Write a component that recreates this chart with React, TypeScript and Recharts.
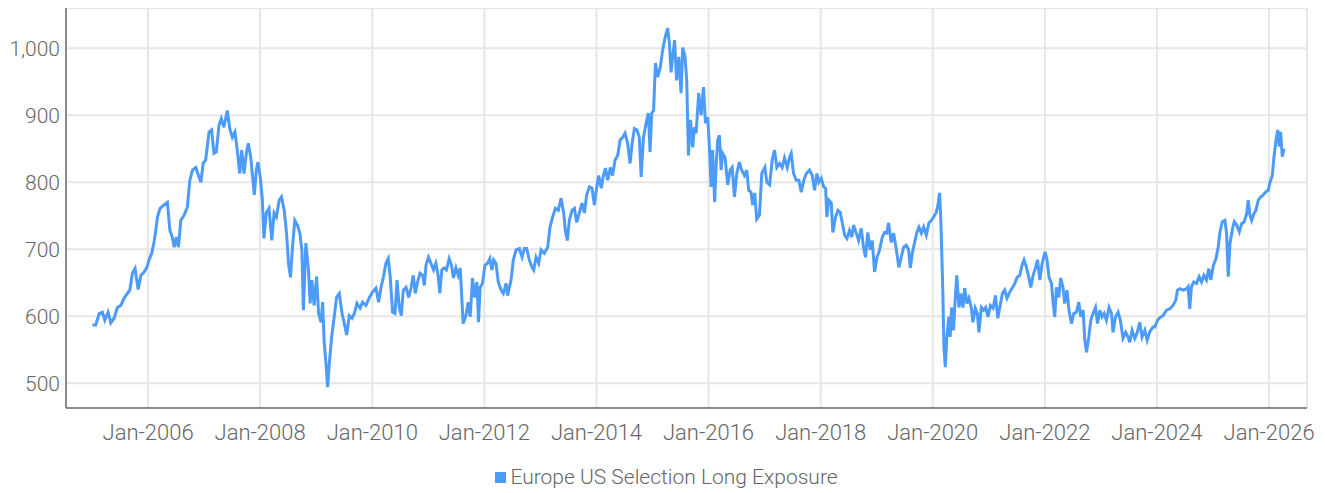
import React from "react";
import { LineChart, Line, XAxis, YAxis, CartesianGrid, Legend } from "recharts";

const seriesName = "Europe US Selection Long Exposure";

const dates: string[] = [
  "2005-01-03", "2005-01-25", "2005-02-16", "2005-03-09", "2005-03-25", "2005-04-15", "2005-05-03", "2005-05-24", "2005-06-15", "2005-07-07", "2005-07-29", "2005-08-19", "2005-09-04", "2005-09-21", "2005-10-08", "2005-10-28", "2005-11-15", "2005-12-06", "2005-12-24",
  "2006-01-07", "2006-01-25", "2006-02-09", "2006-02-20", "2006-03-03", "2006-03-20", "2006-04-15", "2006-05-07", "2006-05-23", "2006-06-08", "2006-06-20", "2006-07-05", "2006-07-18", "2006-08-02", "2006-08-24", "2006-09-14", "2006-09-30", "2006-10-17", "2006-11-08", "2006-11-25", "2006-12-11", "2006-12-26",
  "2007-01-11", "2007-02-02", "2007-02-19", "2007-03-06", "2007-03-21", "2007-04-08", "2007-04-23", "2007-05-10", "2007-06-01", "2007-06-17", "2007-07-04", "2007-07-21", "2007-08-05", "2007-08-21", "2007-09-03", "2007-09-18", "2007-10-03", "2007-10-16", "2007-11-01", "2007-11-11", "2007-11-24", "2007-12-07", "2007-12-18",
  "2008-01-02", "2008-01-15", "2008-01-26", "2008-02-10", "2008-02-28", "2008-03-17", "2008-04-01", "2008-04-16", "2008-05-04", "2008-05-19", "2008-06-06", "2008-06-21", "2008-07-04", "2008-07-17", "2008-07-30", "2008-08-14", "2008-08-31", "2008-09-16", "2008-09-29", "2008-10-09", "2008-10-25", "2008-11-11", "2008-11-22", "2008-12-03", "2008-12-18",
  "2009-01-03", "2009-01-16", "2009-02-01", "2009-02-11", "2009-02-22", "2009-03-05", "2009-03-16", "2009-03-27", "2009-04-11", "2009-04-28", "2009-05-13", "2009-05-31", "2009-06-18", "2009-07-03", "2009-07-18", "2009-08-04", "2009-08-22", "2009-09-06", "2009-09-23", "2009-10-13", "2009-10-30", "2009-11-21", "2009-12-13",
  "2010-01-03", "2010-01-25", "2010-02-11", "2010-02-27", "2010-03-14", "2010-03-31", "2010-04-15", "2010-04-28", "2010-05-13", "2010-05-29", "2010-06-11", "2010-06-26", "2010-07-09", "2010-07-22", "2010-08-09", "2010-08-26", "2010-09-10", "2010-09-25", "2010-10-08", "2010-10-23", "2010-11-08", "2010-11-25", "2010-12-06", "2010-12-17",
  "2011-01-02", "2011-01-18", "2011-02-04", "2011-02-19", "2011-03-06", "2011-03-17", "2011-03-30", "2011-04-14", "2011-04-29", "2011-05-17", "2011-06-01", "2011-06-14", "2011-06-30", "2011-07-15", "2011-07-28", "2011-08-08", "2011-08-16", "2011-09-03", "2011-09-18", "2011-10-01", "2011-10-16", "2011-10-29", "2011-11-14", "2011-11-24", "2011-12-05", "2011-12-20",
  "2012-01-05", "2012-01-22", "2012-02-06", "2012-02-19", "2012-03-02", "2012-03-17", "2012-04-01", "2012-04-19", "2012-05-04", "2012-05-22", "2012-06-01", "2012-06-23", "2012-07-08", "2012-07-26", "2012-08-16", "2012-09-03", "2012-09-18", "2012-10-03", "2012-10-20", "2012-11-07", "2012-11-18", "2012-12-03", "2012-12-20",
  "2013-01-05", "2013-01-26", "2013-02-17", "2013-03-04", "2013-03-21", "2013-04-08", "2013-04-27", "2013-05-15", "2013-06-01", "2013-06-12", "2013-06-25", "2013-07-08", "2013-07-26", "2013-08-10", "2013-08-25", "2013-09-11", "2013-09-29", "2013-10-14", "2013-10-29", "2013-11-16", "2013-12-03", "2013-12-18",
  "2014-01-03", "2014-01-15", "2014-02-01", "2014-02-15", "2014-02-28", "2014-03-15", "2014-04-01", "2014-04-16", "2014-05-02", "2014-05-19", "2014-06-04", "2014-06-21", "2014-07-06", "2014-07-23", "2014-08-08", "2014-08-21", "2014-09-05", "2014-09-22", "2014-10-07", "2014-10-19", "2014-11-03", "2014-11-20", "2014-12-05", "2014-12-16", "2014-12-27",
  "2015-01-08", "2015-01-20", "2015-02-04", "2015-02-21", "2015-03-08", "2015-03-24", "2015-04-10", "2015-04-21", "2015-05-02", "2015-05-12", "2015-05-25", "2015-06-07", "2015-06-21", "2015-07-06", "2015-07-17", "2015-08-01", "2015-08-12", "2015-08-23", "2015-09-05", "2015-09-20", "2015-10-01", "2015-10-12", "2015-10-29", "2015-11-14", "2015-11-29", "2015-12-12", "2015-12-27",
  "2016-01-07", "2016-01-18", "2016-01-28", "2016-02-10", "2016-02-19", "2016-03-01", "2016-03-12", "2016-03-23", "2016-04-02", "2016-04-18", "2016-05-05", "2016-05-21", "2016-06-03", "2016-06-18", "2016-07-03", "2016-07-20", "2016-08-04", "2016-08-22", "2016-09-06", "2016-09-19", "2016-10-04", "2016-10-15", "2016-10-28", "2016-11-10", "2016-11-28", "2016-12-13",
  "2017-01-02", "2017-01-15", "2017-02-02", "2017-02-19", "2017-03-06", "2017-03-21", "2017-04-08", "2017-04-25", "2017-05-10", "2017-05-28", "2017-06-12", "2017-06-23", "2017-07-08", "2017-07-26", "2017-08-12", "2017-08-27", "2017-09-13", "2017-09-29", "2017-10-20", "2017-11-07", "2017-11-22", "2017-12-07", "2017-12-20",
  "2018-01-05", "2018-01-20", "2018-02-02", "2018-02-10", "2018-02-23", "2018-03-11", "2018-03-21", "2018-04-08", "2018-04-23", "2018-05-08", "2018-05-22", "2018-06-06", "2018-06-21", "2018-07-08", "2018-07-23", "2018-08-03", "2018-08-21", "2018-09-05", "2018-09-22", "2018-10-07", "2018-10-20", "2018-11-04", "2018-11-20", "2018-12-03", "2018-12-18",
  "2019-01-03", "2019-01-20", "2019-02-06", "2019-02-21", "2019-03-08", "2019-03-19", "2019-04-06", "2019-04-21", "2019-05-08", "2019-05-25", "2019-06-10", "2019-06-25", "2019-07-13", "2019-07-28", "2019-08-08", "2019-08-21", "2019-09-05", "2019-09-20", "2019-10-03", "2019-10-19", "2019-11-03", "2019-11-20", "2019-12-07", "2019-12-23",
  "2020-01-07", "2020-01-24", "2020-02-04", "2020-02-15", "2020-02-23", "2020-03-01", "2020-03-07", "2020-03-14", "2020-03-23", "2020-04-02", "2020-04-15", "2020-04-24", "2020-05-03", "2020-05-16", "2020-05-27", "2020-06-06", "2020-06-20", "2020-07-01", "2020-07-16", "2020-07-27", "2020-08-11", "2020-08-24", "2020-09-08", "2020-09-19", "2020-10-04", "2020-10-18", "2020-10-28", "2020-11-13", "2020-11-28", "2020-12-11", "2020-12-26",
  "2021-01-11", "2021-01-28", "2021-02-13", "2021-02-28", "2021-03-13", "2021-03-30", "2021-04-14", "2021-04-29", "2021-05-17", "2021-06-04", "2021-06-19", "2021-07-04", "2021-07-21", "2021-08-05", "2021-08-18", "2021-09-03", "2021-09-18", "2021-10-01", "2021-10-16", "2021-11-01", "2021-11-14", "2021-11-29", "2021-12-14",
  "2022-01-02", "2022-01-15", "2022-01-28", "2022-02-13", "2022-02-23", "2022-03-06", "2022-03-17", "2022-04-01", "2022-04-14", "2022-04-29", "2022-05-10", "2022-05-25", "2022-06-07", "2022-06-23", "2022-07-08", "2022-07-26", "2022-08-10", "2022-08-23", "2022-09-07", "2022-09-18", "2022-09-29", "2022-10-14", "2022-10-27", "2022-11-11", "2022-11-27", "2022-12-10", "2022-12-25",
  "2023-01-08", "2023-01-22", "2023-02-06", "2023-02-23", "2023-03-11", "2023-03-21", "2023-04-06", "2023-04-23", "2023-05-08", "2023-05-25", "2023-06-12", "2023-06-27", "2023-07-08", "2023-07-23", "2023-08-10", "2023-08-25", "2023-09-11", "2023-09-26", "2023-10-14", "2023-10-29", "2023-11-16", "2023-12-07", "2023-12-18",
  "2024-01-05", "2024-01-20", "2024-02-10", "2024-03-03", "2024-03-25", "2024-04-15", "2024-05-03", "2024-05-14", "2024-05-29", "2024-06-20", "2024-07-12", "2024-07-22", "2024-08-02", "2024-08-13", "2024-08-28", "2024-09-15", "2024-10-02", "2024-10-18", "2024-11-02", "2024-11-19", "2024-12-04", "2024-12-17",
  "2025-01-03", "2025-01-20", "2025-02-04", "2025-02-15", "2025-03-02", "2025-03-19", "2025-03-30", "2025-04-10", "2025-04-21", "2025-05-08", "2025-05-19", "2025-06-04", "2025-06-21", "2025-07-06", "2025-07-23", "2025-08-08", "2025-08-18", "2025-08-29", "2025-09-09", "2025-09-24", "2025-10-07", "2025-10-22", "2025-11-07", "2025-11-24", "2025-12-12", "2025-12-27",
  "2026-01-07", "2026-01-22", "2026-02-02", "2026-02-15", "2026-02-26", "2026-03-08", "2026-03-17", "2026-03-28", "2026-04-08",
];

const exposure: number[] = [
  587, 587, 604, 606, 594, 606, 590, 597, 613, 616, 627, 634, 639, 664, 671, 640, 661, 666, 673,
  684, 694, 711, 728, 748, 761, 766, 770, 728, 718, 703, 718, 703, 743, 751, 763, 803, 818, 822, 810, 800, 828,
  833, 875, 878, 843, 845, 885, 895, 882, 907, 880, 867, 875, 848, 813, 848, 813, 843, 858, 837, 813, 781, 818, 830,
  807, 776, 716, 754, 761, 713, 754, 748, 773, 778, 758, 724, 679, 658, 703, 743, 736, 724, 699, 609, 709, 669, 619, 654, 616,
  659, 604, 591, 621, 560, 530, 494, 530, 569, 599, 628, 634, 604, 589, 572, 601, 597, 604, 619, 612, 621, 616, 628,
  636, 642, 621, 643, 658, 679, 686, 658, 606, 604, 654, 613, 601, 639, 643, 628, 642, 661, 634, 651, 664, 661, 646, 676,
  688, 679, 669, 679, 661, 634, 669, 672, 669, 686, 676, 657, 672, 661, 672, 624, 589, 601, 621, 599, 657, 628, 651, 591, 643, 649,
  676, 679, 686, 669, 684, 679, 651, 639, 634, 649, 631, 654, 684, 699, 701, 688, 701, 701, 684, 673, 669, 688, 679,
  699, 694, 703, 733, 748, 761, 758, 776, 754, 728, 713, 743, 758, 761, 740, 754, 769, 754, 781, 793, 791, 766,
  793, 810, 791, 810, 821, 803, 822, 810, 833, 840, 863, 867, 873, 858, 828, 858, 880, 878, 867, 808, 867, 888, 903, 845, 903,
  907, 978, 957, 972, 997, 1016, 1030, 1007, 964, 987, 1012, 952, 987, 933, 1001, 987, 952, 840, 893, 852, 882, 873, 933, 900, 942, 888, 897,
  852, 793, 848, 770, 822, 863, 870, 818, 843, 837, 796, 818, 822, 778, 813, 830, 818, 810, 818, 788, 785, 766, 784, 745, 751, 813,
  822, 800, 796, 833, 848, 822, 828, 822, 836, 822, 837, 843, 813, 803, 803, 785, 803, 813, 818, 810, 788, 813, 800,
  806, 793, 791, 748, 773, 769, 725, 748, 758, 755, 739, 721, 716, 728, 718, 736, 724, 713, 731, 703, 688, 725, 699, 713, 666,
  688, 699, 718, 725, 724, 739, 710, 724, 701, 673, 688, 703, 706, 699, 672, 694, 710, 725, 733, 724, 733, 721, 739, 743,
  748, 755, 766, 784, 743, 686, 634, 554, 524, 569, 599, 569, 613, 579, 628, 661, 613, 634, 613, 642, 619, 627, 613, 591, 612, 604, 576, 613, 609, 613, 599,
  616, 612, 631, 597, 613, 634, 639, 627, 636, 643, 649, 658, 661, 676, 684, 673, 658, 643, 661, 672, 684, 654, 679,
  696, 684, 658, 649, 621, 599, 643, 628, 657, 643, 619, 639, 609, 589, 604, 606, 621, 599, 609, 564, 546, 569, 594, 604, 613, 589, 609,
  599, 604, 594, 613, 604, 576, 599, 606, 594, 567, 576, 569, 561, 579, 567, 575, 591, 569, 579, 564, 577, 584, 584,
  594, 598, 601, 609, 611, 616, 624, 639, 641, 639, 641, 644, 611, 644, 651, 649, 659, 651, 661, 654, 671, 654,
  676, 686, 704, 726, 741, 743, 723, 659, 709, 731, 741, 736, 726, 738, 741, 753, 773, 751, 743, 753, 758, 773, 778, 781, 786, 788,
  800, 810, 838, 863, 878, 853, 875, 838, 850,
];

const yTicks = [500, 600, 700, 800, 900, 1000];
const tickYears = [2006, 2008, 2010, 2012, 2014, 2016, 2018, 2020, 2022, 2024, 2026];

const xTicks = tickYears.map((y) => Date.UTC(y, 0, 1));
const data = dates.map((d, i) => ({ t: Date.parse(d), value: exposure[i] }));

const FONT = "Roboto, 'Noto Sans', sans-serif";
const LINE_COLOR = "#4d9bf9";
const TEXT_COLOR = "#666666";
const GRID_COLOR = "#e6e6e6";
const AXIS_COLOR = "#8a8a8a";

const formatDate = (t: number) => "Jan-" + new Date(t).getUTCFullYear();
const formatValue = (v: number) => v.toLocaleString("en-US");

const LegendBox = () => (
  <div
    style={{
      display: "flex",
      justifyContent: "center",
      alignItems: "center",
      fontFamily: FONT,
      fontWeight: 300,
      fontSize: 21,
      lineHeight: "28px",
      color: TEXT_COLOR,
    }}
  >
    <span style={{ display: "inline-block", width: 11, height: 11, background: LINE_COLOR, marginRight: 4 }} />
    <span>{seriesName}</span>
  </div>
);

export default function App() {
  return (
    <LineChart width={1317} height={485} data={data} margin={{ top: 0, right: 18, bottom: 0, left: 0 }}>
      <CartesianGrid stroke={GRID_COLOR} strokeWidth={2} />
      <XAxis
        dataKey="t"
        type="number"
        domain={[Date.UTC(2004, 6, 15), Date.UTC(2026, 8, 5)]}
        ticks={xTicks}
        tickFormatter={formatDate}
        height={85}
        tickLine={false}
        tickSize={0}
        tickMargin={16}
        axisLine={{ stroke: AXIS_COLOR, strokeWidth: 2 }}
        tick={{ fill: TEXT_COLOR, fontSize: 22, fontFamily: FONT, fontWeight: 300 }}
        allowDataOverflow
      />
      <YAxis
        domain={[463, 1060]}
        ticks={yTicks}
        tickFormatter={formatValue}
        width={58}
        tickLine={false}
        tickSize={0}
        tickMargin={6}
        axisLine={{ stroke: AXIS_COLOR, strokeWidth: 2 }}
        tick={{ fill: TEXT_COLOR, fontSize: 21, fontFamily: FONT, fontWeight: 300 }}
        allowDataOverflow
      />
      <Legend verticalAlign="middle" content={<LegendBox />} wrapperStyle={{ top: 455, left: 0, width: 1317 }} />
      <Line
        type="linear"
        dataKey="value"
        name={seriesName}
        stroke={LINE_COLOR}
        strokeWidth={3}
        dot={false}
        activeDot={false}
        isAnimationActive={false}
      />
    </LineChart>
  );
}
